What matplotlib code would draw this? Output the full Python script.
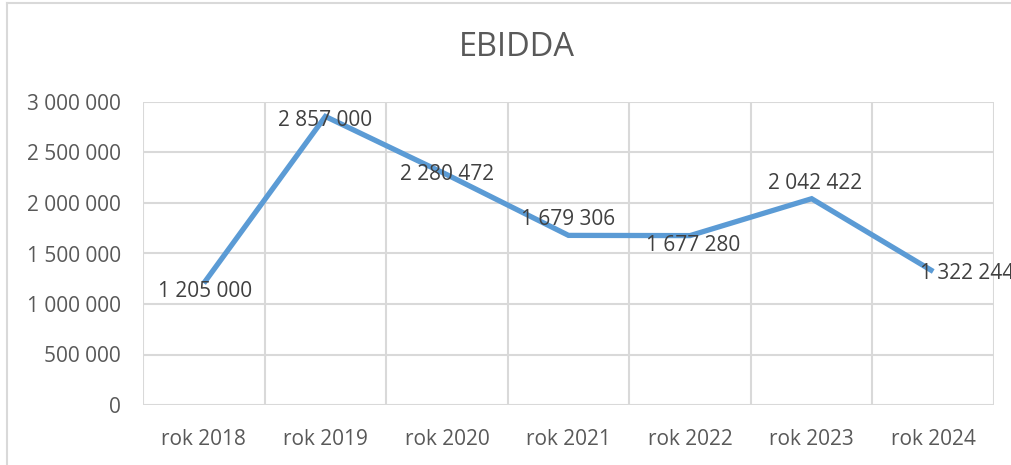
import matplotlib
matplotlib.use("Agg")
import matplotlib.pyplot as plt
from matplotlib.lines import Line2D
from matplotlib.ticker import FuncFormatter, MultipleLocator

# data
years = ["rok 2018", "rok 2019", "rok 2020", "rok 2021", "rok 2022", "rok 2023", "rok 2024"]
ebidda = [1205000, 2857000, 2280472, 1679306, 1677280, 2042422, 1322244]

# label offsets in pixels (dx, dy), as placed in the original
label_offsets = [(1, -8), (0, -4), (0, 0), (0, 16), (3, -10), (3, 15), (-13, -2)]
label_ha = ["center"] * 6 + ["left"]

LINE_COLOR = "#5B9BD5"
GRID_COLOR = "#D9D9D9"
TEXT_COLOR = "#595959"
LABEL_COLOR = "#404040"
FS = 15

plt.rcParams["font.family"] = ["Open Sans", "DejaVu Sans"]

fig = plt.figure(figsize=(10.11, 4.65), dpi=100)
ax = fig.add_axes([143 / 1011, 1 - 405 / 465, (994 - 143) / 1011, (405 - 102) / 465])

x = list(range(len(years)))
ax.plot(x, ebidda, color=LINE_COLOR, linewidth=3.8, solid_capstyle="butt",
        solid_joinstyle="miter", zorder=3)

def fmt(v):
    return f"{int(v):,}".replace(",", " ")

for i, v in enumerate(ebidda):
    dx, dy = label_offsets[i]
    ax.annotate(fmt(v), (i, v), xytext=(dx, dy), textcoords="offset pixels",
                ha=label_ha[i], va="center", fontsize=FS, color=LABEL_COLOR,
                zorder=4, annotation_clip=False)

ax.set_xlim(-0.5, len(years) - 0.5)
ax.set_ylim(0, 3000000)
ax.yaxis.set_major_locator(MultipleLocator(500000))
ax.yaxis.set_major_formatter(FuncFormatter(lambda v, p: fmt(v)))
ax.set_xticks(x)
ax.set_xticklabels(years)
ax.set_xticks([i - 0.5 for i in range(len(years) + 1)], minor=True)

ax.grid(True, which="major", axis="y", color=GRID_COLOR, linewidth=1.5)
ax.grid(True, which="minor", axis="x", color=GRID_COLOR, linewidth=1.5)
ax.set_axisbelow(True)
for s in ax.spines.values():
    s.set_visible(False)
ax.tick_params(which="both", length=0)
ax.tick_params(axis="y", pad=16, labelsize=FS, labelcolor=TEXT_COLOR)
ax.tick_params(axis="x", pad=17, labelsize=FS, labelcolor=TEXT_COLOR)

fig.text(517 / 1011, 1 - 48 / 465, "EBIDDA", ha="center", va="center",
         fontsize=23.5, color=TEXT_COLOR)

# chart border (clipped at right and bottom)
fig.add_artist(Line2D([7 / 1011, 7 / 1011], [0, 1 - 3 / 465], transform=fig.transFigure,
                      color=GRID_COLOR, linewidth=1.5))
fig.add_artist(Line2D([7 / 1011, 1], [1 - 3 / 465, 1 - 3 / 465], transform=fig.transFigure,
                      color=GRID_COLOR, linewidth=1.5))

fig.savefig("out.png", dpi=100)
